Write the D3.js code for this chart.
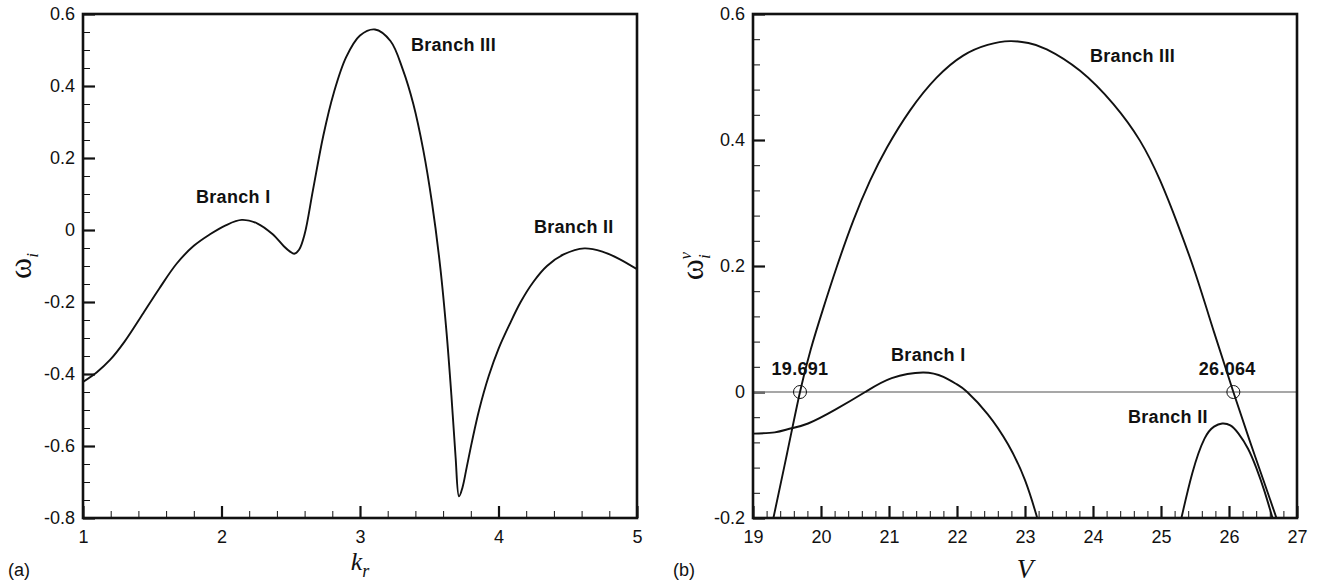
<!DOCTYPE html>
<html>
<head>
<meta charset="utf-8">
<script src="https://cdn.jsdelivr.net/npm/d3@7"></script>
<style>
  body { margin: 0; background: #fff; }
  svg text { font-family: "Liberation Sans", Arial, sans-serif; fill: #111; }
  .serif { font-family: "Liberation Serif", "Times New Roman", serif !important; }
</style>
</head>
<body>
<svg id="chart" width="1327" height="585"></svg>
<script>
// panel (a): omega_i against k_r
const kr = [1.00, 1.10, 1.195, 1.30, 1.435, 1.55, 1.677, 1.80, 1.917, 2.03, 2.146, 2.26, 2.37, 2.45, 2.495,
            2.525, 2.56, 2.60, 2.66, 2.735, 2.81, 2.90, 3.00, 3.108, 3.22, 3.31, 3.385, 3.457, 3.52, 3.58,
            3.625, 3.66, 3.69, 3.715, 3.74, 3.77, 3.81, 3.86, 3.93, 4.00, 4.08, 4.16, 4.25, 4.35, 4.47,
            4.62, 4.75, 4.87, 5.00]
const omegaI = [-0.422, -0.395, -0.361, -0.310, -0.231, -0.163, -0.093, -0.044, -0.012, 0.013, 0.028, 0.018,
                -0.012, -0.045, -0.060, -0.066, -0.055, -0.012, 0.110, 0.262, 0.380, 0.480, 0.540, 0.557,
                0.525, 0.445, 0.350, 0.222, 0.075, -0.105, -0.285, -0.460, -0.630, -0.740, -0.715, -0.660,
                -0.585, -0.500, -0.405, -0.330, -0.262, -0.200, -0.145, -0.100, -0.068, -0.051, -0.060,
                -0.080, -0.109]

// panel (b): omega_i^v against V, three branches
const vBranch1 = [19.00, 19.32, 19.55, 19.81, 20.21, 20.65, 21.04, 21.50, 21.80, 22.00, 22.15, 22.45, 22.75, 23.00, 23.18, 23.25]
const wBranch1 = [-0.066, -0.064, -0.058, -0.050, -0.028, 0.0, 0.022, 0.031, 0.024, 0.012, 0.0, -0.035, -0.083, -0.14, -0.2, -0.227]
const vBranch2 = [25.24, 25.30, 25.46, 25.64, 25.78, 25.90, 26.02, 26.14, 26.28, 26.40, 26.52, 26.64, 26.68]
const wBranch2 = [-0.225, -0.2, -0.129, -0.074, -0.055, -0.050, -0.053, -0.066, -0.090, -0.120, -0.157, -0.2, -0.215]
const vBranch3 = [19.20, 19.30, 19.50, 19.691, 19.85, 20.025, 20.23, 20.475, 20.72, 20.97, 21.31, 21.70, 22.09,
                  22.45, 22.78, 23.05, 23.32, 23.81, 24.30, 24.69, 24.99, 25.25, 25.50, 25.78, 26.064, 26.30,
                  26.50, 26.72, 26.80]
const wBranch3 = [-0.251, -0.200, -0.098, 0.0, 0.068, 0.130, 0.198, 0.272, 0.335, 0.388, 0.447, 0.499, 0.534,
                  0.551, 0.557, 0.554, 0.544, 0.510, 0.457, 0.399, 0.335, 0.265, 0.190, 0.095, 0.0, -0.076,
                  -0.138, -0.207, -0.232]
const crossV = [19.691, 26.064]
const crossLabels = ['19.691', '26.064']

// ticks
const xTicksA = [1, 2, 3, 4, 5]
const yTicksA = [-0.8, -0.6, -0.4, -0.2, 0, 0.2, 0.4, 0.6]
const xTicksB = [19, 20, 21, 22, 23, 24, 25, 26, 27]
const yTicksB = [-0.2, 0, 0.2, 0.4, 0.6]

const fmt = d => String(+d.toFixed(1))
const svg = d3.select('#chart')
const plotTop = 14, plotBottom = 518

function drawPanel(name, left, right, xDomain, yDomain, xMajor, xStep, yMajor, yStep) {
  const x = d3.scaleLinear().domain(xDomain).range([left, right])
  const y = d3.scaleLinear().domain(yDomain).range([plotBottom, plotTop])
  const g = svg.append('g').attr('class', 'panel-' + name)

  svg.append('clipPath').attr('id', 'clip-' + name)
    .append('rect')
      .attr('x', left).attr('y', plotTop)
      .attr('width', right - left).attr('height', plotBottom - plotTop)

  const xMinor = d3.range(xDomain[0], xDomain[1] + 1e-9, xStep)
  const yMinor = d3.range(yDomain[0], yDomain[1] + 1e-9, yStep)

  // minor ticks (inward)
  g.append('g').attr('transform', `translate(0,${plotBottom})`)
    .call(d3.axisBottom(x).tickValues(xMinor).tickSize(-7).tickFormat(''))
    .call(a => a.select('.domain').remove())
    .selectAll('line').attr('stroke', '#111').attr('stroke-width', 1)
  g.append('g').attr('transform', `translate(${left},0)`)
    .call(d3.axisLeft(y).tickValues(yMinor).tickSize(-7).tickFormat(''))
    .call(a => a.select('.domain').remove())
    .selectAll('line').attr('stroke', '#111').attr('stroke-width', 1)

  // major ticks with labels
  const xa = g.append('g').attr('transform', `translate(0,${plotBottom})`)
    .call(d3.axisBottom(x).tickValues(xMajor).tickSize(-12).tickPadding(12).tickFormat(fmt))
    .attr('font-size', 18)
  xa.select('.domain').remove()
  xa.selectAll('line').attr('stroke', '#111').attr('stroke-width', 2.2)

  const ya = g.append('g').attr('transform', `translate(${left},0)`)
    .call(d3.axisLeft(y).tickValues(yMajor).tickSize(-12).tickPadding(8).tickFormat(fmt))
    .attr('font-size', 18)
  ya.select('.domain').remove()
  ya.selectAll('line').attr('stroke', '#111').attr('stroke-width', 2.2)

  return { g, x, y, left, right }
}

function drawFrame(p) {
  p.g.append('rect')
    .attr('x', p.left).attr('y', plotTop)
    .attr('width', p.right - p.left).attr('height', plotBottom - plotTop)
    .attr('fill', 'none').attr('stroke', '#111').attr('stroke-width', 2.6)
}

function curve(p, name, xs, ys, interp) {
  const pts = xs.map((v, i) => [v, ys[i]])
  const line = d3.line().x(d => p.x(d[0])).y(d => p.y(d[1])).curve(interp)
  p.g.append('path')
    .attr('d', line(pts))
    .attr('clip-path', `url(#clip-${name})`)
    .attr('fill', 'none').attr('stroke', '#111').attr('stroke-width', 1.9)
}

function label(p, txt, xv, yv, anchor) {
  p.g.append('text')
    .attr('x', p.x(xv)).attr('y', p.y(yv))
    .attr('text-anchor', anchor || 'start')
    .attr('font-size', 18).attr('font-weight', 'bold')
    .attr('letter-spacing', 0.3)
    .text(txt)
}

// ---- panel (a)
const pa = drawPanel('a', 83, 637, [1, 5], [-0.8, 0.6], xTicksA, 0.2, yTicksA, 0.05)
curve(pa, 'a', kr, omegaI, d3.curveCatmullRom.alpha(0.5))
drawFrame(pa)
label(pa, 'Branch I', 1.816, 0.075)
label(pa, 'Branch III', 3.368, 0.497)
label(pa, 'Branch II', 4.256, -0.008)

// axis titles (a)
const kt = svg.append('text').attr('class', 'serif')
  .attr('x', pa.x(3)).attr('y', 570).attr('text-anchor', 'middle')
  .attr('font-size', 26).attr('font-style', 'italic')
kt.append('tspan').text('k')
kt.append('tspan').attr('font-size', 18).attr('dy', 7).text('r')

const wa = svg.append('text').attr('class', 'serif')
  .attr('transform', `translate(31,${(plotTop + plotBottom) / 2}) rotate(-90)`)
  .attr('text-anchor', 'middle').attr('font-size', 32)
wa.append('tspan').text('ω')
wa.append('tspan').attr('font-size', 17).attr('font-style', 'italic').attr('dy', 7).text('i')

svg.append('text').attr('x', 8).attr('y', 576).attr('font-size', 18).text('(a)')

// ---- panel (b)
const pb = drawPanel('b', 753, 1297, [19, 27], [-0.2, 0.6], xTicksB, 0.2, yTicksB, 0.04)
pb.g.append('line')
  .attr('x1', pb.x(19)).attr('x2', pb.x(27))
  .attr('y1', pb.y(0)).attr('y2', pb.y(0))
  .attr('stroke', '#8a8a8a').attr('stroke-width', 1.5)
curve(pb, 'b', vBranch3, wBranch3, d3.curveNatural)
curve(pb, 'b', vBranch1, wBranch1, d3.curveNatural)
curve(pb, 'b', vBranch2, wBranch2, d3.curveNatural)
drawFrame(pb)

pb.g.selectAll('circle.cross')
  .data(crossV)
  .join('circle')
    .attr('class', 'cross')
    .attr('cx', d => pb.x(d)).attr('cy', pb.y(0))
    .attr('r', 6.5)
    .attr('fill', 'none').attr('stroke', '#111').attr('stroke-width', 1)

label(pb, crossLabels[0], crossV[0], 0.027, 'middle')
label(pb, crossLabels[1], crossV[1] - 0.09, 0.027, 'middle')
label(pb, 'Branch III', 23.956, 0.524)
label(pb, 'Branch I', 21.03, 0.049)
label(pb, 'Branch II', 24.515, -0.049)

svg.append('text').attr('class', 'serif')
  .attr('x', pb.x(23)).attr('y', 578).attr('text-anchor', 'middle')
  .attr('font-size', 27).attr('font-style', 'italic')
  .text('V')

const wb = svg.append('text').attr('class', 'serif')
  .attr('transform', `translate(703,${(plotTop + plotBottom) / 2}) rotate(-90)`)
  .attr('text-anchor', 'middle').attr('font-size', 32)
wb.append('tspan').text('ω')
wb.append('tspan').attr('font-size', 17).attr('font-style', 'italic').attr('dy', 7).text('i')
wb.append('tspan').attr('font-size', 17).attr('font-style', 'italic').attr('dx', -5).attr('dy', -19).text('v')

svg.append('text').attr('x', 673).attr('y', 576).attr('font-size', 18).text('(b)')
</script>
</body>
</html>
